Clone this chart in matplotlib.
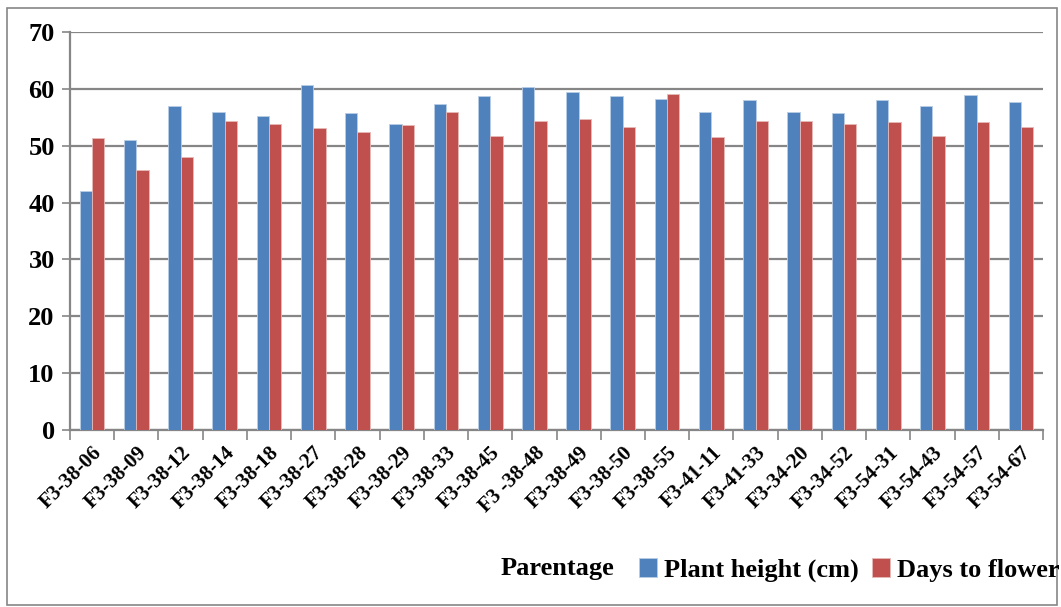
import matplotlib
matplotlib.use("Agg")
import matplotlib.pyplot as plt
import numpy as np
from matplotlib.patches import Rectangle

categories = ["F3-38-06", "F3-38-09", "F3-38-12", "F3-38-14", "F3-38-18", "F3-38-27",
              "F3-38-28", "F3-38-29", "F3-38-33", "F3-38-45", "F3 -38-48", "F3-38-49",
              "F3-38-50", "F3-38-55", "F3-41-11", "F3-41-33", "F3-34-20", "F3-34-52",
              "F3-54-31", "F3-54-43", "F3-54-57", "F3-54-67"]
plant_height = [42.0, 51.0, 56.9, 55.9, 55.2, 60.7, 55.7, 53.9, 57.4, 58.8, 60.3,
                59.4, 58.7, 58.3, 56.0, 58.1, 55.9, 55.8, 58.0, 56.9, 59.0, 57.7]
days_to_flower = [51.3, 45.8, 48.0, 54.3, 53.9, 53.2, 52.4, 53.7, 56.0, 51.7, 54.3,
                  54.7, 53.3, 59.1, 51.5, 54.4, 54.3, 53.8, 54.1, 51.7, 54.1, 53.3]
series_names = ["Plant height (cm)", "Days to flower"]
y_ticks = [0, 10, 20, 30, 40, 50, 60, 70]

blue = "#4F81BD"
red = "#C0504D"
grid_gray = "#868686"

plt.rcParams["font.family"] = ["Liberation Serif", "DejaVu Serif"]
plt.rcParams["font.weight"] = "bold"

W, H = 1061, 607
fig = plt.figure(figsize=(W / 100, H / 100), dpi=100)
ax = fig.add_axes([70 / W, 1 - 430 / H, (1043 - 70) / W, (430 - 32) / H])

x = np.arange(len(categories))
bw = 0.28
ax.bar(x - bw / 2, plant_height, bw, color=blue, edgecolor="#B9CDE5", linewidth=0.6,
       label=series_names[0], zorder=3)
ax.bar(x + bw / 2, days_to_flower, bw, color=red, edgecolor="#E6B9B8", linewidth=0.6,
       label=series_names[1], zorder=3)

ax.set_xlim(-0.5, len(categories) - 0.5)
ax.set_ylim(0, 70)
ax.set_yticks(y_ticks)
ax.set_yticklabels([str(t) for t in y_ticks], fontsize=19, fontweight="bold")
ax.yaxis.grid(True, color=grid_gray, linewidth=1.6, zorder=0)
ax.tick_params(axis="y", length=6, width=1.2, color=grid_gray, pad=5)

ax.set_xticks(x)
ax.set_xticklabels(categories, rotation=45, ha="right", va="top",
                   rotation_mode="anchor", fontsize=15, fontweight="bold")
ax.tick_params(axis="x", which="major", length=0, pad=9)
ax.set_xticks(np.arange(len(categories) + 1) - 0.5, minor=True)
ax.tick_params(axis="x", which="minor", length=7, width=1.2, color=grid_gray)

for side in ["top", "right"]:
    ax.spines[side].set_visible(False)
for side in ["left", "bottom"]:
    ax.spines[side].set_color(grid_gray)
    ax.spines[side].set_linewidth(1.6)

# outer chart frame
fig.patches.append(Rectangle((7 / W, 1 - 605 / H), (1057 - 7) / W, (605 - 8) / H,
                             transform=fig.transFigure, fill=False,
                             edgecolor=grid_gray, linewidth=1.2))

fig.text(557 / W, 1 - 568 / H, "Parentage", ha="center", va="center",
         fontsize=19, fontweight="bold")
leg = fig.legend(loc="center", bbox_to_anchor=(849 / W, 1 - 570 / H), ncol=2,
                 frameon=False, handlelength=0.7, handleheight=0.7,
                 handletextpad=0.25, columnspacing=0.5, borderpad=0,
                 prop={"weight": "bold", "size": 19})

fig.savefig("out.png", dpi=100)
